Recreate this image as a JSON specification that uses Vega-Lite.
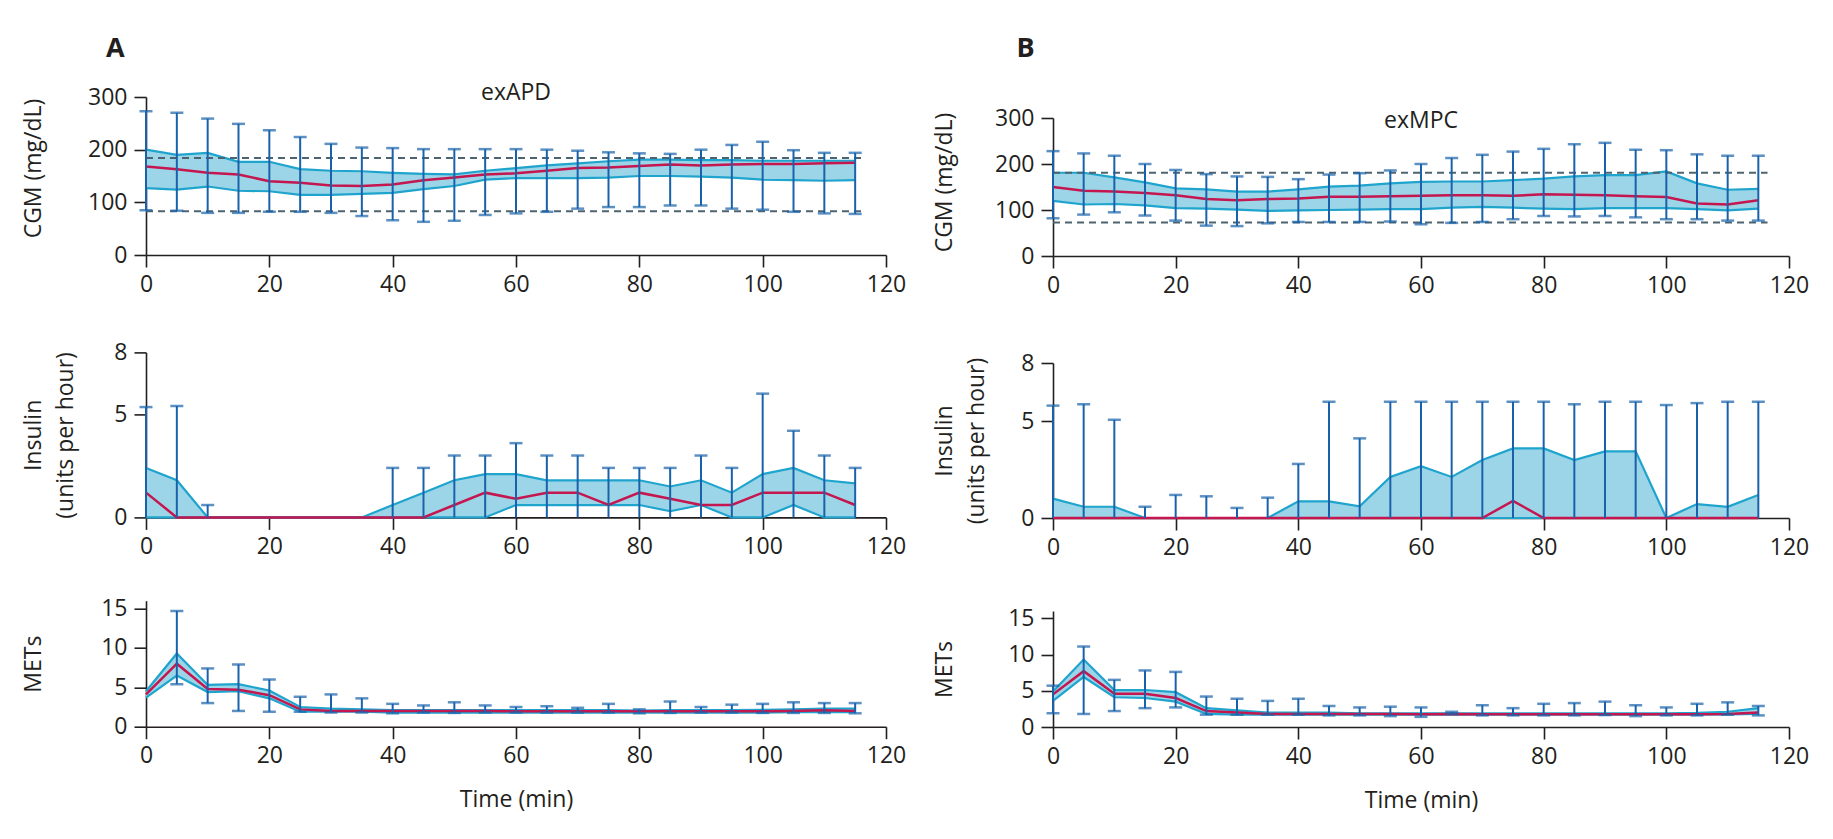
{
  "$schema": "https://vega.github.io/schema/vega-lite/v6.json",
  "background": "white",
  "autosize": {"type": "pad"},
  "padding": {"left": 21, "top": 34, "right": 0, "bottom": 15},
  "datasets": {
    "cgmA": [
      {"t":0,"q1":127,"med":168,"q3":200,"lo":85,"hi":273},
      {"t":5,"q1":124,"med":163,"q3":190,"lo":84,"hi":270},
      {"t":10,"q1":130,"med":156,"q3":194,"lo":80,"hi":259},
      {"t":15,"q1":122,"med":153,"q3":177,"lo":80,"hi":249},
      {"t":20,"q1":121,"med":140,"q3":177,"lo":82,"hi":237},
      {"t":25,"q1":114,"med":137,"q3":163,"lo":82,"hi":224},
      {"t":30,"q1":114,"med":132,"q3":160,"lo":80,"hi":211},
      {"t":35,"q1":116,"med":131,"q3":159,"lo":74,"hi":204},
      {"t":40,"q1":118,"med":134,"q3":156,"lo":66,"hi":203},
      {"t":45,"q1":125,"med":142,"q3":154,"lo":63,"hi":201},
      {"t":50,"q1":131,"med":147,"q3":153,"lo":65,"hi":201},
      {"t":55,"q1":143,"med":153,"q3":160,"lo":76,"hi":201},
      {"t":60,"q1":146,"med":155,"q3":165,"lo":79,"hi":201},
      {"t":65,"q1":146,"med":160,"q3":170,"lo":82,"hi":200},
      {"t":70,"q1":146,"med":165,"q3":174,"lo":88,"hi":198},
      {"t":75,"q1":147,"med":166,"q3":178,"lo":91,"hi":195},
      {"t":80,"q1":150,"med":169,"q3":181,"lo":91,"hi":193},
      {"t":85,"q1":150,"med":172,"q3":181,"lo":94,"hi":192},
      {"t":90,"q1":149,"med":170,"q3":180,"lo":94,"hi":200},
      {"t":95,"q1":147,"med":172,"q3":180,"lo":88,"hi":209},
      {"t":100,"q1":143,"med":173,"q3":179,"lo":86,"hi":215},
      {"t":105,"q1":142,"med":173,"q3":179,"lo":82,"hi":199},
      {"t":110,"q1":141,"med":174,"q3":179,"lo":79,"hi":194},
      {"t":115,"q1":142,"med":175,"q3":179,"lo":78,"hi":194}
    ],
    "cgmB": [
      {"t":0,"q1":120,"med":150,"q3":181,"lo":82,"hi":228},
      {"t":5,"q1":112,"med":142,"q3":181,"lo":90,"hi":223},
      {"t":10,"q1":113,"med":140,"q3":171,"lo":95,"hi":218},
      {"t":15,"q1":110,"med":137,"q3":160,"lo":88,"hi":200},
      {"t":20,"q1":104,"med":132,"q3":147,"lo":77,"hi":187},
      {"t":25,"q1":103,"med":124,"q3":145,"lo":66,"hi":178},
      {"t":30,"q1":101,"med":121,"q3":140,"lo":65,"hi":173},
      {"t":35,"q1":98,"med":124,"q3":140,"lo":71,"hi":172},
      {"t":40,"q1":99,"med":125,"q3":145,"lo":74,"hi":167},
      {"t":45,"q1":100,"med":129,"q3":151,"lo":74,"hi":177},
      {"t":50,"q1":101,"med":129,"q3":153,"lo":74,"hi":180},
      {"t":55,"q1":102,"med":130,"q3":158,"lo":75,"hi":186},
      {"t":60,"q1":102,"med":131,"q3":161,"lo":69,"hi":200},
      {"t":65,"q1":105,"med":132,"q3":162,"lo":72,"hi":213},
      {"t":70,"q1":107,"med":132,"q3":162,"lo":74,"hi":220},
      {"t":75,"q1":105,"med":131,"q3":165,"lo":80,"hi":227},
      {"t":80,"q1":103,"med":134,"q3":168,"lo":87,"hi":233},
      {"t":85,"q1":102,"med":133,"q3":173,"lo":86,"hi":243},
      {"t":90,"q1":104,"med":132,"q3":176,"lo":87,"hi":246},
      {"t":95,"q1":104,"med":130,"q3":176,"lo":84,"hi":231},
      {"t":100,"q1":104,"med":128,"q3":184,"lo":80,"hi":230},
      {"t":105,"q1":102,"med":114,"q3":158,"lo":80,"hi":221},
      {"t":110,"q1":99,"med":112,"q3":144,"lo":77,"hi":218},
      {"t":115,"q1":103,"med":121,"q3":146,"lo":77,"hi":218}
    ],
    "insA": [
      {"t":0,"q1":0,"med":1.2,"q3":2.4,"lo":0,"hi":5.35},
      {"t":5,"q1":0,"med":0,"q3":1.8,"lo":0,"hi":5.4},
      {"t":10,"q1":0,"med":0,"q3":0,"lo":0,"hi":0.6},
      {"t":15,"q1":0,"med":0,"q3":0,"lo":0,"hi":null},
      {"t":20,"q1":0,"med":0,"q3":0,"lo":0,"hi":null},
      {"t":25,"q1":0,"med":0,"q3":0,"lo":0,"hi":null},
      {"t":30,"q1":0,"med":0,"q3":0,"lo":0,"hi":null},
      {"t":35,"q1":0,"med":0,"q3":0,"lo":0,"hi":null},
      {"t":40,"q1":0,"med":0,"q3":0.6,"lo":0,"hi":2.4},
      {"t":45,"q1":0,"med":0,"q3":1.2,"lo":0,"hi":2.4},
      {"t":50,"q1":0,"med":0.6,"q3":1.8,"lo":0,"hi":3.0},
      {"t":55,"q1":0,"med":1.2,"q3":2.1,"lo":0,"hi":3.0},
      {"t":60,"q1":0.6,"med":0.9,"q3":2.1,"lo":0,"hi":3.6},
      {"t":65,"q1":0.6,"med":1.2,"q3":1.8,"lo":0,"hi":3.0},
      {"t":70,"q1":0.6,"med":1.2,"q3":1.8,"lo":0,"hi":3.0},
      {"t":75,"q1":0.6,"med":0.6,"q3":1.8,"lo":0,"hi":2.4},
      {"t":80,"q1":0.6,"med":1.2,"q3":1.8,"lo":0,"hi":2.4},
      {"t":85,"q1":0.3,"med":0.9,"q3":1.5,"lo":0,"hi":2.4},
      {"t":90,"q1":0.6,"med":0.6,"q3":1.8,"lo":0,"hi":3.0},
      {"t":95,"q1":0,"med":0.6,"q3":1.2,"lo":0,"hi":2.4},
      {"t":100,"q1":0,"med":1.2,"q3":2.1,"lo":0,"hi":6.0},
      {"t":105,"q1":0.6,"med":1.2,"q3":2.4,"lo":0,"hi":4.2},
      {"t":110,"q1":0,"med":1.2,"q3":1.8,"lo":0,"hi":3.0},
      {"t":115,"q1":0,"med":0.6,"q3":1.65,"lo":0,"hi":2.4}
    ],
    "insB": [
      {"t":0,"q1":0,"med":0,"q3":1.0,"lo":0,"hi":5.8},
      {"t":5,"q1":0,"med":0,"q3":0.58,"lo":0,"hi":5.87},
      {"t":10,"q1":0,"med":0,"q3":0.58,"lo":0,"hi":5.07},
      {"t":15,"q1":0,"med":0,"q3":0,"lo":0,"hi":0.58},
      {"t":20,"q1":0,"med":0,"q3":0,"lo":0,"hi":1.19},
      {"t":25,"q1":0,"med":0,"q3":0,"lo":0,"hi":1.12},
      {"t":30,"q1":0,"med":0,"q3":0,"lo":0,"hi":0.52},
      {"t":35,"q1":0,"med":0,"q3":0,"lo":0,"hi":1.05},
      {"t":40,"q1":0,"med":0,"q3":0.86,"lo":0,"hi":2.79},
      {"t":45,"q1":0,"med":0,"q3":0.86,"lo":0,"hi":6.0},
      {"t":50,"q1":0,"med":0,"q3":0.6,"lo":0,"hi":4.11},
      {"t":55,"q1":0,"med":0,"q3":2.12,"lo":0,"hi":6.0},
      {"t":60,"q1":0,"med":0,"q3":2.67,"lo":0,"hi":6.0},
      {"t":65,"q1":0,"med":0,"q3":2.12,"lo":0,"hi":6.0},
      {"t":70,"q1":0,"med":0,"q3":2.99,"lo":0,"hi":6.0},
      {"t":75,"q1":0,"med":0.88,"q3":3.59,"lo":0,"hi":6.0},
      {"t":80,"q1":0,"med":0,"q3":3.59,"lo":0,"hi":6.0},
      {"t":85,"q1":0,"med":0,"q3":2.99,"lo":0,"hi":5.87},
      {"t":90,"q1":0,"med":0,"q3":3.44,"lo":0,"hi":6.0},
      {"t":95,"q1":0,"med":0,"q3":3.44,"lo":0,"hi":6.0},
      {"t":100,"q1":0,"med":0,"q3":0,"lo":0,"hi":5.83},
      {"t":105,"q1":0,"med":0,"q3":0.72,"lo":0,"hi":5.93},
      {"t":110,"q1":0,"med":0,"q3":0.58,"lo":0,"hi":6.0},
      {"t":115,"q1":0,"med":0,"q3":1.19,"lo":0,"hi":6.0}
    ],
    "metA": [
      {"t":0,"q1":3.7,"med":4.1,"q3":4.5,"lo":null,"hi":null},
      {"t":5,"q1":6.5,"med":8.0,"q3":9.3,"lo":5.4,"hi":14.7},
      {"t":10,"q1":4.4,"med":4.8,"q3":5.3,"lo":3.0,"hi":7.4},
      {"t":15,"q1":4.5,"med":4.7,"q3":5.4,"lo":2.0,"hi":7.9},
      {"t":20,"q1":3.6,"med":4.0,"q3":4.6,"lo":1.9,"hi":6.0},
      {"t":25,"q1":1.9,"med":2.2,"q3":2.5,"lo":1.9,"hi":3.8},
      {"t":30,"q1":1.9,"med":2.0,"q3":2.3,"lo":1.8,"hi":4.1},
      {"t":35,"q1":1.9,"med":2.0,"q3":2.2,"lo":1.8,"hi":3.6},
      {"t":40,"q1":1.8,"med":2.0,"q3":2.1,"lo":1.7,"hi":2.9},
      {"t":45,"q1":1.8,"med":2.0,"q3":2.1,"lo":1.8,"hi":2.7},
      {"t":50,"q1":1.8,"med":2.0,"q3":2.1,"lo":1.75,"hi":3.1},
      {"t":55,"q1":1.8,"med":2.0,"q3":2.1,"lo":1.8,"hi":2.7},
      {"t":60,"q1":1.8,"med":1.95,"q3":2.1,"lo":1.8,"hi":2.5},
      {"t":65,"q1":1.8,"med":1.95,"q3":2.1,"lo":1.8,"hi":2.6},
      {"t":70,"q1":1.8,"med":1.95,"q3":2.1,"lo":1.8,"hi":2.4},
      {"t":75,"q1":1.8,"med":1.95,"q3":2.1,"lo":1.8,"hi":2.9},
      {"t":80,"q1":1.8,"med":1.95,"q3":2.05,"lo":1.7,"hi":2.2},
      {"t":85,"q1":1.8,"med":1.95,"q3":2.1,"lo":1.75,"hi":3.2},
      {"t":90,"q1":1.8,"med":1.95,"q3":2.1,"lo":1.8,"hi":2.5},
      {"t":95,"q1":1.8,"med":1.95,"q3":2.1,"lo":1.8,"hi":2.8},
      {"t":100,"q1":1.8,"med":1.95,"q3":2.15,"lo":1.75,"hi":2.9},
      {"t":105,"q1":1.85,"med":2.0,"q3":2.2,"lo":1.75,"hi":3.1},
      {"t":110,"q1":1.85,"med":2.1,"q3":2.3,"lo":1.75,"hi":3.0},
      {"t":115,"q1":1.85,"med":2.0,"q3":2.3,"lo":1.7,"hi":3.0}
    ],
    "metB": [
      {"t":0,"q1":3.6,"med":4.5,"q3":4.9,"lo":1.9,"hi":5.7},
      {"t":5,"q1":6.9,"med":7.7,"q3":9.3,"lo":1.8,"hi":11.1},
      {"t":10,"q1":4.1,"med":4.6,"q3":5.1,"lo":2.2,"hi":6.5},
      {"t":15,"q1":4.0,"med":4.6,"q3":5.1,"lo":2.6,"hi":7.8},
      {"t":20,"q1":3.5,"med":4.0,"q3":4.8,"lo":2.7,"hi":7.6},
      {"t":25,"q1":1.8,"med":2.2,"q3":2.6,"lo":1.7,"hi":4.2},
      {"t":30,"q1":1.7,"med":2.0,"q3":2.3,"lo":1.7,"hi":3.9},
      {"t":35,"q1":1.7,"med":1.8,"q3":2.0,"lo":1.7,"hi":3.6},
      {"t":40,"q1":1.7,"med":1.8,"q3":2.0,"lo":1.7,"hi":3.9},
      {"t":45,"q1":1.7,"med":1.8,"q3":2.0,"lo":1.6,"hi":2.9},
      {"t":50,"q1":1.7,"med":1.8,"q3":1.9,"lo":1.6,"hi":2.7},
      {"t":55,"q1":1.7,"med":1.8,"q3":1.9,"lo":1.5,"hi":2.8},
      {"t":60,"q1":1.7,"med":1.75,"q3":1.9,"lo":1.4,"hi":2.7},
      {"t":65,"q1":1.7,"med":1.8,"q3":1.9,"lo":1.8,"hi":2.1},
      {"t":70,"q1":1.7,"med":1.75,"q3":1.9,"lo":1.6,"hi":3.0},
      {"t":75,"q1":1.7,"med":1.75,"q3":1.9,"lo":1.6,"hi":2.6},
      {"t":80,"q1":1.7,"med":1.75,"q3":1.9,"lo":1.6,"hi":3.2},
      {"t":85,"q1":1.7,"med":1.75,"q3":1.9,"lo":1.6,"hi":3.3},
      {"t":90,"q1":1.7,"med":1.75,"q3":1.9,"lo":1.65,"hi":3.5},
      {"t":95,"q1":1.7,"med":1.75,"q3":1.9,"lo":1.5,"hi":3.0},
      {"t":100,"q1":1.7,"med":1.75,"q3":1.9,"lo":1.6,"hi":2.7},
      {"t":105,"q1":1.7,"med":1.75,"q3":1.95,"lo":1.6,"hi":3.2},
      {"t":110,"q1":1.75,"med":1.8,"q3":2.1,"lo":1.7,"hi":3.4},
      {"t":115,"q1":1.8,"med":2.0,"q3":2.6,"lo":1.6,"hi":2.9}
    ],
    "refA": [{"ref": 184}, {"ref": 83}],
    "refB": [{"ref": 181}, {"ref": 73}]
  },
  "hconcat": [
    {
      "spacing": 45.4,
      "vconcat": [
        {
          "width": 740, "height": 158,
          "data": {"name": "cgmA"},
          "layer": [
            {"mark": {"type": "area", "color": "#9dd5e8", "opacity": 1},
             "encoding": {
               "x": {"field": "t", "type": "quantitative", "scale": {"domain": [0, 120]}, "axis": {"values": [0,20,40,60,80,100,120], "title": null}},
               "y": {"field": "q1", "type": "quantitative", "scale": {"domain": [0, 300]}, "axis": {"values": [0,100,200,300], "tickCount": 4, "title": "CGM (mg/dL)", "titleX": -101, "titleY": 71, "labelOverlap": false}},
               "y2": {"field": "q3"}}},
            {"mark": {"type": "line", "color": "#1fa4cd", "strokeWidth": 2.2}, "encoding": {"x": {"field": "t", "type": "quantitative"}, "y": {"field": "q3", "type": "quantitative"}}},
            {"mark": {"type": "line", "color": "#1fa4cd", "strokeWidth": 2.2}, "encoding": {"x": {"field": "t", "type": "quantitative"}, "y": {"field": "q1", "type": "quantitative"}}},
            {"data": {"name": "refA"}, "mark": {"type": "rule", "color": "#4d6470", "strokeWidth": 2, "strokeDash": [7, 5]}, "encoding": {"y": {"field": "ref", "type": "quantitative"}, "x": {"datum": 0}, "x2": {"datum": 116.5}}},
            {"mark": {"type": "line", "color": "#c4164f", "strokeWidth": 2.5}, "encoding": {"x": {"field": "t", "type": "quantitative"}, "y": {"field": "med", "type": "quantitative"}}},
            {"mark": {"type": "rule", "color": "#1862ab", "strokeWidth": 2}, "encoding": {"x": {"field": "t", "type": "quantitative"}, "y": {"field": "lo", "type": "quantitative"}, "y2": {"field": "hi"}}},
            {"mark": {"type": "tick", "orient": "horizontal", "size": 13, "thickness": 2.5, "color": "#1862ab"}, "encoding": {"x": {"field": "t", "type": "quantitative"}, "y": {"field": "hi", "type": "quantitative"}}},
            {"mark": {"type": "tick", "orient": "horizontal", "size": 13, "thickness": 2.5, "color": "#1862ab"}, "encoding": {"x": {"field": "t", "type": "quantitative"}, "y": {"field": "lo", "type": "quantitative"}}},
            {"data": {"values": [{"label": "exAPD"}]}, "mark": {"type": "text", "fontSize": 23, "align": "center", "baseline": "alphabetic", "color": "#231f20"}, "encoding": {"text": {"field": "label"}, "x": {"datum": 60}, "y": {"datum": 294.3}}},
            {"data": {"values": [{"label": "A"}]}, "mark": {"type": "text", "fontSize": 27, "fontWeight": "bold", "align": "left", "baseline": "alphabetic", "color": "#231f20"}, "encoding": {"text": {"field": "label"}, "x": {"datum": -6.49}, "y": {"datum": 376.5}}}
          ]
        },
        {
          "spacing": 38.3,
          "vconcat": [
            {
              "width": 740, "height": 165,
              "data": {"name": "insA"},
              "layer": [
                {"mark": {"type": "area", "color": "#9dd5e8", "opacity": 1},
                 "encoding": {
                   "x": {"field": "t", "type": "quantitative", "scale": {"domain": [0, 120]}, "axis": {"values": [0,20,40,60,80,100,120], "title": null}},
                   "y": {"field": "q1", "type": "quantitative", "scale": {"domain": [0, 8]}, "axis": {"values": [0,5,8], "tickCount": 3, "title": ["Insulin", "(units per hour)"], "titleX": -101, "titleY": 82.5, "labelOverlap": false}},
                   "y2": {"field": "q3"}}},
                {"mark": {"type": "line", "color": "#1fa4cd", "strokeWidth": 2.2}, "encoding": {"x": {"field": "t", "type": "quantitative"}, "y": {"field": "q3", "type": "quantitative"}}},
                {"mark": {"type": "line", "color": "#1fa4cd", "strokeWidth": 2.2}, "encoding": {"x": {"field": "t", "type": "quantitative"}, "y": {"field": "q1", "type": "quantitative"}}},
                {"mark": {"type": "line", "color": "#c4164f", "strokeWidth": 2.5}, "encoding": {"x": {"field": "t", "type": "quantitative"}, "y": {"field": "med", "type": "quantitative"}}},
                {"mark": {"type": "rule", "color": "#1862ab", "strokeWidth": 2}, "encoding": {"x": {"field": "t", "type": "quantitative"}, "y": {"field": "lo", "type": "quantitative"}, "y2": {"field": "hi"}}},
                {"mark": {"type": "tick", "orient": "horizontal", "size": 13, "thickness": 2.5, "color": "#1862ab"}, "encoding": {"x": {"field": "t", "type": "quantitative"}, "y": {"field": "hi", "type": "quantitative"}}}
              ]
            },
            {
              "width": 740, "height": 126,
              "data": {"name": "metA"},
              "layer": [
                {"mark": {"type": "area", "color": "#9dd5e8", "opacity": 1},
                 "encoding": {
                   "x": {"field": "t", "type": "quantitative", "scale": {"domain": [0, 120]}, "axis": {"values": [0,20,40,60,80,100,120], "title": "Time (min)"}},
                   "y": {"field": "q1", "type": "quantitative", "scale": {"domain": [0, 15]}, "axis": {"values": [0,5,10,15], "tickCount": 4, "title": "METs", "titleX": -101, "titleY": 63, "labelOverlap": false}},
                   "y2": {"field": "q3"}}},
                {"mark": {"type": "line", "color": "#1fa4cd", "strokeWidth": 2.2}, "encoding": {"x": {"field": "t", "type": "quantitative"}, "y": {"field": "q3", "type": "quantitative"}}},
                {"mark": {"type": "line", "color": "#1fa4cd", "strokeWidth": 2.2}, "encoding": {"x": {"field": "t", "type": "quantitative"}, "y": {"field": "q1", "type": "quantitative"}}},
                {"mark": {"type": "line", "color": "#c4164f", "strokeWidth": 2.5}, "encoding": {"x": {"field": "t", "type": "quantitative"}, "y": {"field": "med", "type": "quantitative"}}},
                {"mark": {"type": "rule", "color": "#1862ab", "strokeWidth": 2}, "encoding": {"x": {"field": "t", "type": "quantitative"}, "y": {"field": "lo", "type": "quantitative"}, "y2": {"field": "hi"}}},
                {"mark": {"type": "tick", "orient": "horizontal", "size": 13, "thickness": 2.5, "color": "#1862ab"}, "encoding": {"x": {"field": "t", "type": "quantitative"}, "y": {"field": "hi", "type": "quantitative"}}},
                {"mark": {"type": "tick", "orient": "horizontal", "size": 13, "thickness": 2.5, "color": "#1862ab"}, "encoding": {"x": {"field": "t", "type": "quantitative"}, "y": {"field": "lo", "type": "quantitative"}}}
              ]
            }
          ]
        }
      ]
    },
    {
      "spacing": 9,
      "vconcat": [
        {
          "width": 736, "height": 1,
          "data": {"values": [{"label": "B"}]},
          "mark": {"type": "text", "fontSize": 27, "fontWeight": "bold", "align": "left", "baseline": "alphabetic", "color": "#231f20"},
          "encoding": {
            "text": {"field": "label"},
            "x": {"datum": -5.97, "type": "quantitative", "scale": {"domain": [0, 120]}, "axis": null},
            "y": {"datum": 41.3, "type": "quantitative", "scale": {"domain": [0, 1]}, "axis": null}
          }
        },
        {
          "spacing": 55,
          "vconcat": [
            {
              "width": 736, "height": 138,
              "data": {"name": "cgmB"},
              "layer": [
                {"mark": {"type": "area", "color": "#9dd5e8", "opacity": 1},
                 "encoding": {
                   "x": {"field": "t", "type": "quantitative", "scale": {"domain": [0, 120]}, "axis": {"values": [0,20,40,60,80,100,120], "title": null}},
                   "y": {"field": "q1", "type": "quantitative", "scale": {"domain": [0, 300]}, "axis": {"values": [0,100,200,300], "tickCount": 4, "title": "CGM (mg/dL)", "titleX": -96.5, "titleY": 64, "labelOverlap": false}},
                   "y2": {"field": "q3"}}},
                {"mark": {"type": "line", "color": "#1fa4cd", "strokeWidth": 2.2}, "encoding": {"x": {"field": "t", "type": "quantitative"}, "y": {"field": "q3", "type": "quantitative"}}},
                {"mark": {"type": "line", "color": "#1fa4cd", "strokeWidth": 2.2}, "encoding": {"x": {"field": "t", "type": "quantitative"}, "y": {"field": "q1", "type": "quantitative"}}},
                {"data": {"name": "refB"}, "mark": {"type": "rule", "color": "#4d6470", "strokeWidth": 2, "strokeDash": [7, 5]}, "encoding": {"y": {"field": "ref", "type": "quantitative"}, "x": {"datum": 0}, "x2": {"datum": 116.5}}},
                {"mark": {"type": "line", "color": "#c4164f", "strokeWidth": 2.5}, "encoding": {"x": {"field": "t", "type": "quantitative"}, "y": {"field": "med", "type": "quantitative"}}},
                {"mark": {"type": "rule", "color": "#1862ab", "strokeWidth": 2}, "encoding": {"x": {"field": "t", "type": "quantitative"}, "y": {"field": "lo", "type": "quantitative"}, "y2": {"field": "hi"}}},
                {"mark": {"type": "tick", "orient": "horizontal", "size": 13, "thickness": 2.5, "color": "#1862ab"}, "encoding": {"x": {"field": "t", "type": "quantitative"}, "y": {"field": "hi", "type": "quantitative"}}},
                {"mark": {"type": "tick", "orient": "horizontal", "size": 13, "thickness": 2.5, "color": "#1862ab"}, "encoding": {"x": {"field": "t", "type": "quantitative"}, "y": {"field": "lo", "type": "quantitative"}}},
                {"data": {"values": [{"label": "exMPC"}]}, "mark": {"type": "text", "fontSize": 23, "align": "center", "baseline": "alphabetic", "color": "#231f20"}, "encoding": {"text": {"field": "label"}, "x": {"datum": 60}, "y": {"datum": 278.3}}}
              ]
            },
            {
              "spacing": 48,
              "vconcat": [
                {
                  "width": 736, "height": 155,
                  "data": {"name": "insB"},
                  "layer": [
                    {"mark": {"type": "area", "color": "#9dd5e8", "opacity": 1},
                     "encoding": {
                       "x": {"field": "t", "type": "quantitative", "scale": {"domain": [0, 120]}, "axis": {"values": [0,20,40,60,80,100,120], "title": null}},
                       "y": {"field": "q1", "type": "quantitative", "scale": {"domain": [0, 8]}, "axis": {"values": [0,5,8], "tickCount": 3, "title": ["Insulin", "(units per hour)"], "titleX": -96.5, "titleY": 77.5, "labelOverlap": false}},
                       "y2": {"field": "q3"}}},
                    {"mark": {"type": "line", "color": "#1fa4cd", "strokeWidth": 2.2}, "encoding": {"x": {"field": "t", "type": "quantitative"}, "y": {"field": "q3", "type": "quantitative"}}},
                    {"mark": {"type": "line", "color": "#1fa4cd", "strokeWidth": 2.2}, "encoding": {"x": {"field": "t", "type": "quantitative"}, "y": {"field": "q1", "type": "quantitative"}}},
                    {"mark": {"type": "line", "color": "#c4164f", "strokeWidth": 2.5}, "encoding": {"x": {"field": "t", "type": "quantitative"}, "y": {"field": "med", "type": "quantitative"}}},
                    {"mark": {"type": "rule", "color": "#1862ab", "strokeWidth": 2}, "encoding": {"x": {"field": "t", "type": "quantitative"}, "y": {"field": "lo", "type": "quantitative"}, "y2": {"field": "hi"}}},
                    {"mark": {"type": "tick", "orient": "horizontal", "size": 13, "thickness": 2.5, "color": "#1862ab"}, "encoding": {"x": {"field": "t", "type": "quantitative"}, "y": {"field": "hi", "type": "quantitative"}}}
                  ]
                },
                {
                  "width": 736, "height": 116,
                  "data": {"name": "metB"},
                  "layer": [
                    {"mark": {"type": "area", "color": "#9dd5e8", "opacity": 1},
                     "encoding": {
                       "x": {"field": "t", "type": "quantitative", "scale": {"domain": [0, 120]}, "axis": {"values": [0,20,40,60,80,100,120], "title": "Time (min)"}},
                       "y": {"field": "q1", "type": "quantitative", "scale": {"domain": [0, 15]}, "axis": {"values": [0,5,10,15], "tickCount": 4, "title": "METs", "titleX": -96.5, "titleY": 58, "labelOverlap": false}},
                       "y2": {"field": "q3"}}},
                    {"mark": {"type": "line", "color": "#1fa4cd", "strokeWidth": 2.2}, "encoding": {"x": {"field": "t", "type": "quantitative"}, "y": {"field": "q3", "type": "quantitative"}}},
                    {"mark": {"type": "line", "color": "#1fa4cd", "strokeWidth": 2.2}, "encoding": {"x": {"field": "t", "type": "quantitative"}, "y": {"field": "q1", "type": "quantitative"}}},
                    {"mark": {"type": "line", "color": "#c4164f", "strokeWidth": 2.5}, "encoding": {"x": {"field": "t", "type": "quantitative"}, "y": {"field": "med", "type": "quantitative"}}},
                    {"mark": {"type": "rule", "color": "#1862ab", "strokeWidth": 2}, "encoding": {"x": {"field": "t", "type": "quantitative"}, "y": {"field": "lo", "type": "quantitative"}, "y2": {"field": "hi"}}},
                    {"mark": {"type": "tick", "orient": "horizontal", "size": 13, "thickness": 2.5, "color": "#1862ab"}, "encoding": {"x": {"field": "t", "type": "quantitative"}, "y": {"field": "hi", "type": "quantitative"}}},
                    {"mark": {"type": "tick", "orient": "horizontal", "size": 13, "thickness": 2.5, "color": "#1862ab"}, "encoding": {"x": {"field": "t", "type": "quantitative"}, "y": {"field": "lo", "type": "quantitative"}}}
                  ]
                }
              ]
            }
          ]
        }
      ]
    }
  ],
  "spacing": 27,
  "config": {
    "font": "Open Sans",
    "view": {"stroke": null},
    "axis": {
      "labelFont": "Open Sans", "labelFontSize": 23, "labelColor": "#231f20",
      "titleFont": "Open Sans", "titleFontSize": 23, "titleFontWeight": "normal", "titleColor": "#231f20",
      "domainColor": "#231f20", "tickColor": "#231f20", "domainWidth": 1.6, "tickWidth": 1.6, "tickSize": 12,
      "grid": false, "labelFlush": false, "labelOverlap": false, "titleLineHeight": 32
    },
    "axisX": {"labelPadding": 6, "titlePadding": 21},
    "axisY": {"labelPadding": 7},
    "text": {"font": "Open Sans"}
  }
}
